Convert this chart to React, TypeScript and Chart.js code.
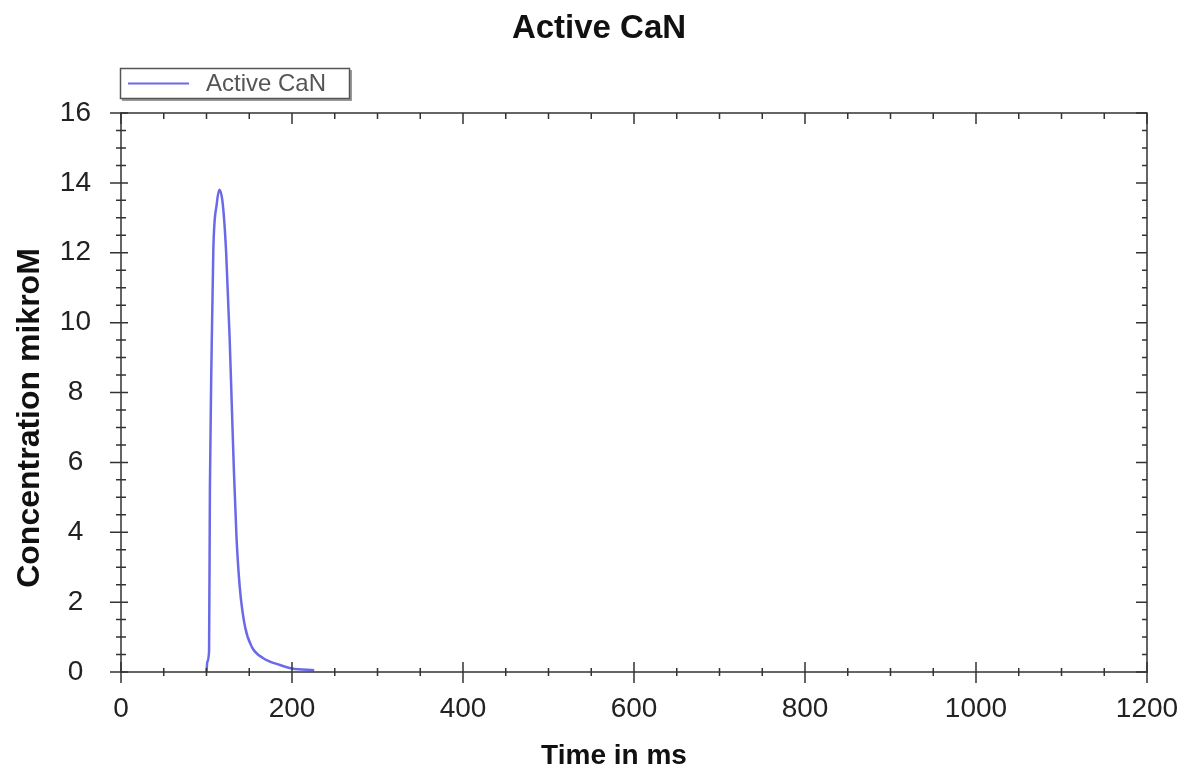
import React, { useEffect, useRef } from "react";
import { Chart, registerables } from "chart.js";

Chart.register(...registerables);

const TITLE = "Active CaN";
const SERIES_LABEL = "Active CaN";
const X_TITLE = "Time in ms";
const Y_TITLE = "Concentration mikroM";

const timeMs = [100, 101, 103, 104, 106, 108, 112, 115, 119, 123, 127, 129.5, 132, 135, 139, 145, 153, 166, 186, 200, 226];
const activeCaN = [0, 0.3, 0.6, 5.3, 9.2, 12.1, 13.4, 13.8, 13.4, 12.0, 9.6, 7.7, 5.8, 3.9, 2.4, 1.3, 0.72, 0.4, 0.2, 0.1, 0.05];

const X_MIN = 0, X_MAX = 1200, X_MAJOR = 200, X_MINOR = 50;
const Y_MIN = 0, Y_MAX = 16, Y_MAJOR = 2, Y_MINOR = 0.5;

const FONT = "'Liberation Sans', Arial, sans-serif";
const AXIS_COLOR = "#333333";
const LINE_COLOR = "#6a6ae8";

const decorPlugin = {
  id: "decor",
  afterDraw(chart: any) {
    const ctx = chart.ctx;
    const xs = chart.scales.x;
    const ys = chart.scales.y;
    const { left, right, top, bottom } = chart.chartArea;
    ctx.save();
    ctx.strokeStyle = AXIS_COLOR;
    ctx.lineWidth = 1.5;
    ctx.beginPath();
    ctx.moveTo(left, top);
    ctx.lineTo(right, top);
    ctx.lineTo(right, bottom);
    ctx.lineTo(left, bottom);
    ctx.closePath();
    ctx.stroke();
    for (let v = X_MIN; v <= X_MAX + 1e-9; v += X_MINOR) {
      const px = xs.getPixelForValue(v);
      const major = Math.abs(v / X_MAJOR - Math.round(v / X_MAJOR)) < 1e-6;
      ctx.beginPath();
      if (major) {
        ctx.moveTo(px, bottom - 10);
        ctx.lineTo(px, bottom + 11);
        ctx.moveTo(px, top);
        ctx.lineTo(px, top + 11);
      } else {
        ctx.moveTo(px, bottom - 4);
        ctx.lineTo(px, bottom + 4);
        ctx.moveTo(px, top);
        ctx.lineTo(px, top + 6);
      }
      ctx.stroke();
    }
    for (let v = Y_MIN; v <= Y_MAX + 1e-9; v += Y_MINOR) {
      const py = ys.getPixelForValue(v);
      const major = Math.abs(v / Y_MAJOR - Math.round(v / Y_MAJOR)) < 1e-6;
      ctx.beginPath();
      if (major) {
        ctx.moveTo(left - 11, py);
        ctx.lineTo(left + 7, py);
        ctx.moveTo(right, py);
        ctx.lineTo(right - 11, py);
      } else {
        ctx.moveTo(left - 5, py);
        ctx.lineTo(left + 5, py);
        ctx.moveTo(right, py);
        ctx.lineTo(right - 5, py);
      }
      ctx.stroke();
    }
    ctx.fillStyle = "#111111";
    ctx.textAlign = "center";
    ctx.textBaseline = "middle";
    ctx.font = `bold 33px ${FONT}`;
    ctx.fillText(TITLE, 599, 29);
    ctx.font = `bold 28px ${FONT}`;
    ctx.fillText(X_TITLE, 614, 756);
    ctx.save();
    ctx.translate(30, 418);
    ctx.rotate(-Math.PI / 2);
    ctx.font = `bold 32px ${FONT}`;
    ctx.fillText(Y_TITLE, 0, 0);
    ctx.restore();
    ctx.fillStyle = "#9a9a9a";
    ctx.fillRect(122, 70, 230, 31);
    ctx.fillStyle = "#ffffff";
    ctx.fillRect(120, 68, 230, 31);
    ctx.strokeStyle = "#555555";
    ctx.lineWidth = 1.5;
    ctx.strokeRect(120.5, 68.5, 229, 30);
    ctx.strokeStyle = LINE_COLOR;
    ctx.lineWidth = 2;
    ctx.beginPath();
    ctx.moveTo(128, 83.5);
    ctx.lineTo(189, 83.5);
    ctx.stroke();
    ctx.fillStyle = "#555555";
    ctx.textAlign = "left";
    ctx.font = `24px ${FONT}`;
    ctx.fillText(SERIES_LABEL, 206, 84);
    ctx.restore();
  },
};

export default function App() {
  const ref = useRef<HTMLCanvasElement>(null);
  useEffect(() => {
    document.body.style.margin = "0";
    const points = timeMs.map((t, i) => ({ x: t, y: activeCaN[i] }));
    const chart = new Chart(ref.current!, {
      type: "scatter",
      data: {
        datasets: [
          {
            label: SERIES_LABEL,
            data: points,
            showLine: true,
            borderColor: LINE_COLOR,
            backgroundColor: LINE_COLOR,
            borderWidth: 2.5,
            pointRadius: 0,
            cubicInterpolationMode: "monotone",
          },
        ],
      },
      options: {
        responsive: false,
        animation: false,
        layout: { padding: { left: 0, top: 113, right: 50, bottom: 0 } },
        plugins: { legend: { display: false }, title: { display: false }, tooltip: { enabled: false } },
        scales: {
          x: {
            type: "linear",
            min: X_MIN,
            max: X_MAX,
            grid: { display: false, drawTicks: false },
            border: { display: false },
            ticks: {
              stepSize: X_MAJOR,
              padding: 20,
              color: "#222222",
              font: { family: FONT, size: 28 },
              maxRotation: 0,
              callback: (v: any) => String(v),
            },
            afterFit: (s: any) => { s.height = 101; s.paddingLeft = 0; s.paddingRight = 0; },
          },
          y: {
            type: "linear",
            min: Y_MIN,
            max: Y_MAX,
            grid: { display: false, drawTicks: false },
            border: { display: false },
            ticks: {
              stepSize: Y_MAJOR,
              padding: 30,
              crossAlign: "center",
              color: "#222222",
              font: { family: FONT, size: 28 },
              callback: (v: any) => String(v),
            },
            afterFit: (s: any) => { s.width = 121; s.paddingTop = 0; s.paddingBottom = 0; },
          },
        },
      },
      plugins: [decorPlugin],
    });
    return () => chart.destroy();
  }, []);
  return (
    <div style={{ width: 1197, height: 773, background: "#ffffff" }}>
      <canvas ref={ref} width={1197} height={773} style={{ display: "block" }} />
    </div>
  );
}
